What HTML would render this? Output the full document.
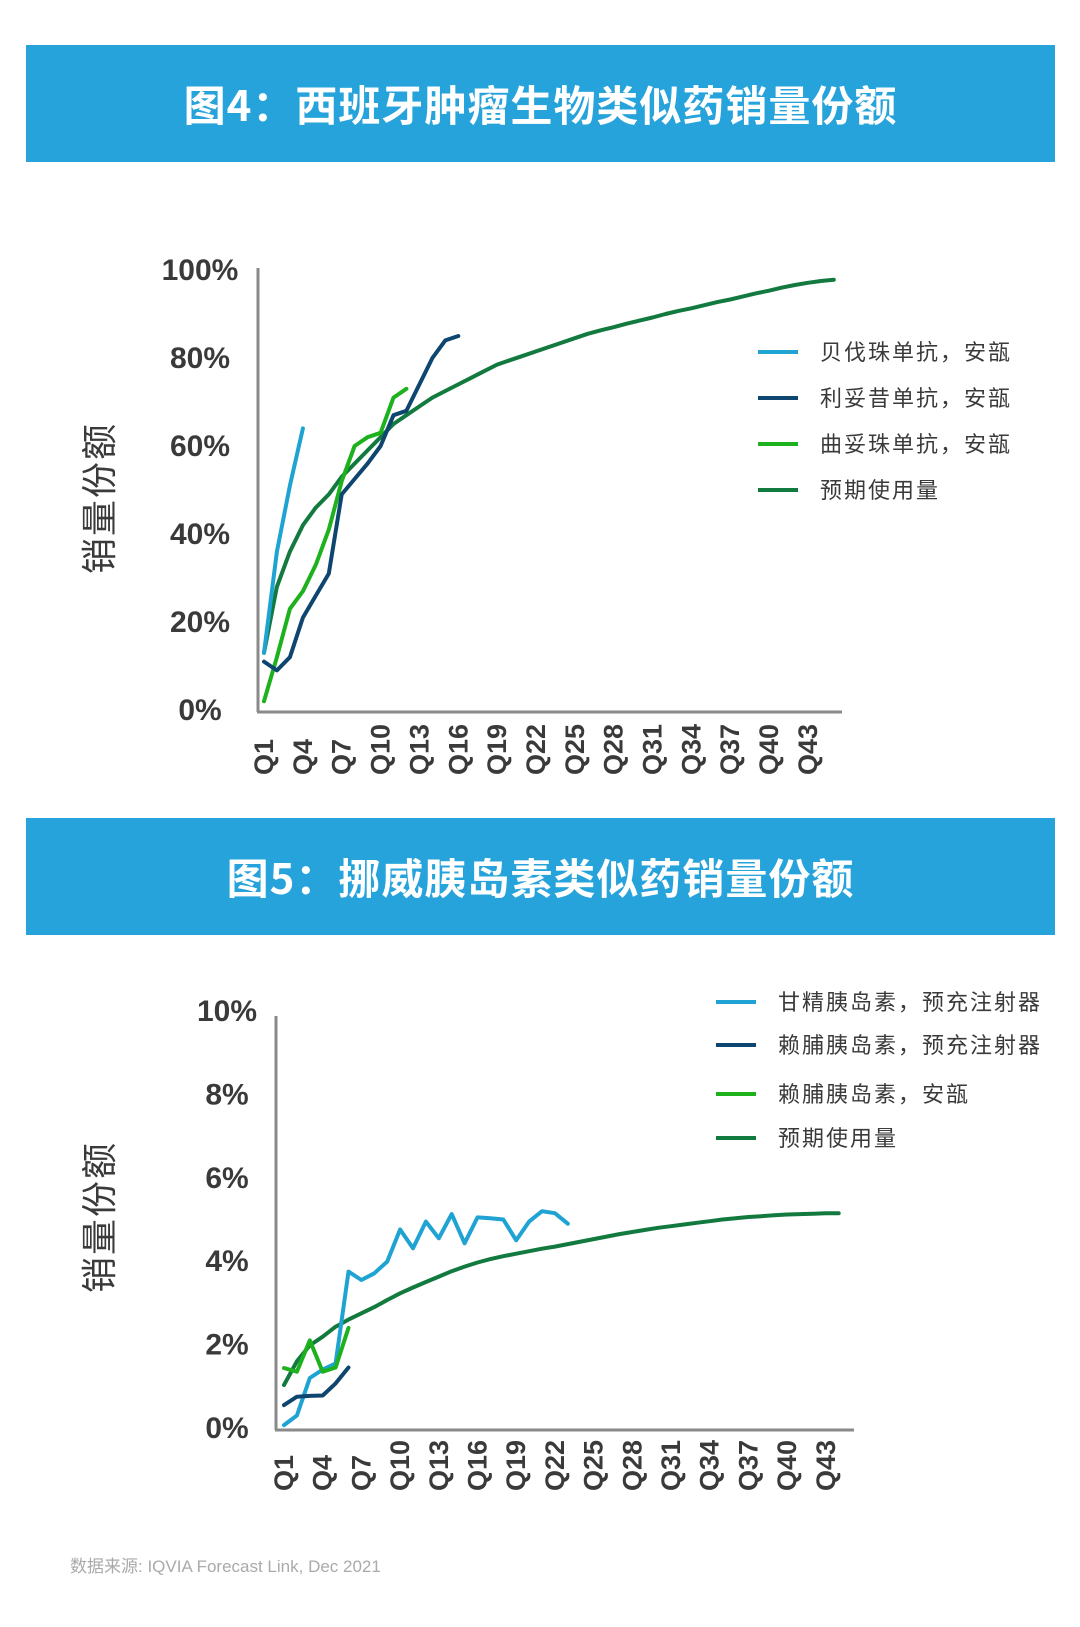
<!DOCTYPE html>
<html><head><meta charset="utf-8">
<style>
html,body{margin:0;padding:0;background:#fff;}
body{width:1080px;height:1627px;position:relative;overflow:hidden;font-family:"Liberation Sans","Noto Sans CJK SC",sans-serif;}
.banner{position:absolute;left:26px;width:1029px;height:117px;background:#27a3db;color:#fff;font-family:"Noto Sans CJK SC",sans-serif;font-weight:bold;font-size:42px;text-align:center;line-height:117px;letter-spacing:1px;}
svg{position:absolute;left:0;top:0;}
.foot{position:absolute;left:70px;top:1552px;font-size:17px;color:#aaa;font-family:"Liberation Sans","Noto Sans CJK SC",sans-serif;}
</style></head><body>
<div class="banner" style="top:45px">图4：西班牙肿瘤生物类似药销量份额</div>
<div class="banner" style="top:818px">图5：挪威胰岛素类似药销量份额</div>
<svg id="svg" width="1080" height="1627"></svg>
<div class="foot">数据来源: IQVIA Forecast Link, Dec 2021</div>
<script>
// Chart 4 data (% share by quarter, starting Q1)
const c1Bev = [13,36,51,64];
const c1Rit = [11,9,12,21,26,31,49,52.5,56,60,67,68,74,80,84,85];
const c1Tra = [2,12,23,27,33,41,52,60,62,63,71,73];
const c1Fcst = [13,28,36,42,46,49,53,56,59,62,65,67,69,71,72.5,74,75.5,77,78.5,79.5,80.5,81.5,82.5,83.5,84.5,85.5,86.3,87,87.8,88.5,89.2,90,90.7,91.3,92,92.7,93.3,94,94.7,95.3,96,96.6,97.1,97.5,97.8];
const c1YTicks = [0,20,40,60,80,100];
const c1Names = ["贝伐珠单抗，安瓿","利妥昔单抗，安瓿","曲妥珠单抗，安瓿","预期使用量"];
// Chart 5 data
const c2Gla = [0.07,0.3,1.2,1.4,1.55,3.75,3.55,3.71,3.99,4.76,4.31,4.95,4.55,5.13,4.43,5.05,5.03,5.0,4.5,4.95,5.2,5.15,4.9];
const c2LisPen = [0.55,0.75,0.77,0.78,1.07,1.45];
const c2LisAmp = [1.44,1.35,2.1,1.35,1.45,2.4];
const c2Fcst = [1.03,1.6,1.98,2.19,2.43,2.6,2.75,2.9,3.07,3.23,3.37,3.5,3.63,3.76,3.87,3.97,4.05,4.12,4.18,4.24,4.3,4.35,4.41,4.47,4.53,4.59,4.65,4.7,4.75,4.8,4.84,4.88,4.92,4.96,5.0,5.03,5.06,5.08,5.1,5.12,5.13,5.14,5.15,5.15];
const c2YTicks = [0,2,4,6,8,10];
const c2Names = ["甘精胰岛素，预充注射器","赖脯胰岛素，预充注射器","赖脯胰岛素，安瓿","预期使用量"];
const xTickQs = [1,4,7,10,13,16,19,22,25,28,31,34,37,40,43];

const colors = ["#1ea3d2","#0e4670","#1eb11e","#127a3e"];
const NS = "http://www.w3.org/2000/svg";
const svg = document.getElementById('svg');
function mk(tag, attrs, parent){const e=document.createElementNS(NS,tag);for(const k in attrs)e.setAttribute(k,attrs[k]);(parent||svg).appendChild(e);return e;}

function drawChart(cfg){
  const g = mk('g',{});
  
  
  const x = q => cfg.x0 + (q-1)*cfg.step;
  const y = v => cfg.y0 - (v/cfg.yMax)*(cfg.y0-cfg.yTop);
  // axes
  const ya = mk('line',{x1:cfg.ax,y1:cfg.axTop,x2:cfg.ax,y2:cfg.y0+2,stroke:'#8a8a8a','stroke-width':3},g);
  
  
  const xa = mk('line',{x1:cfg.ax-1,y1:cfg.y0+2,x2:cfg.axRight,y2:cfg.y0+2,stroke:'#8a8a8a','stroke-width':3},g);
  
  
  cfg.yTicks.forEach(t=>{
    const tx = mk('text',{x:cfg.ylx,y:y(t)+10,'text-anchor':'middle','font-size':30,'font-weight':'bold',fill:'#3a3a3a','font-family':'Liberation Sans, sans-serif'},g);
    tx.textContent = t+'%';
    
    
  });
  xTickQs.forEach(q=>{
    const tx = mk('text',{x:0,y:0,transform:`translate(${x(q)+9},${cfg.xlBottom}) rotate(-90)`,'font-size':27,'font-weight':'bold',fill:'#3a3a3a','font-family':'Liberation Sans, sans-serif'},g);
    tx.textContent = 'Q'+q;
    
    
  });
  const yt = mk('text',{x:0,y:0,transform:`translate(${cfg.ytx},${cfg.yty}) rotate(-90)`,'text-anchor':'middle','font-size':36,fill:'#3a3a3a','font-family':'Noto Sans CJK SC, sans-serif','letter-spacing':2},g);
  yt.textContent = '销量份额';
  
  
  const order=[3,0,2,1];
  order.forEach(i=>{
    const d = cfg.series[i];
    const pts = d.map((v,k)=>x(k+1).toFixed(1)+','+y(v).toFixed(1)).join(' ');
    const pl = mk('polyline',{points:pts,fill:'none',stroke:colors[i],'stroke-width':4,'stroke-linejoin':'round','stroke-linecap':'round'},g);
    
    
  });
  cfg.names.forEach((n,i)=>{
    const ly = cfg.legY[i];
    const ln = mk('line',{x1:cfg.legX,y1:ly,x2:cfg.legX+40,y2:ly,stroke:colors[i],'stroke-width':4},g);
    
    
    const tx = mk('text',{x:cfg.legX+62,y:ly+8,'font-size':22,fill:'#3a3a3a','letter-spacing':2,'font-family':'Noto Sans CJK SC, sans-serif'},g);
    tx.textContent = n;
    
    
  });
}
drawChart({id:'chart4',x0:264,step:12.95,y0:710,yTop:270,yMax:100,ax:258,axTop:268,axRight:842,ylx:200,xlBottom:775,ytx:112,yty:498,yTicks:c1YTicks,names:c1Names,series:[c1Bev,c1Rit,c1Tra,c1Fcst],legX:758,legY:[352,398,444,490]});
drawChart({id:'chart5',x0:284,step:12.9,y0:1428,yTop:1011,yMax:10,ax:276,axTop:1016,axRight:854,ylx:227,xlBottom:1491,ytx:112,yty:1217,yTicks:c2YTicks,names:c2Names,series:[c2Gla,c2LisPen,c2LisAmp,c2Fcst],legX:716,legY:[1002,1045,1094,1138]});
</script>
</body></html>
